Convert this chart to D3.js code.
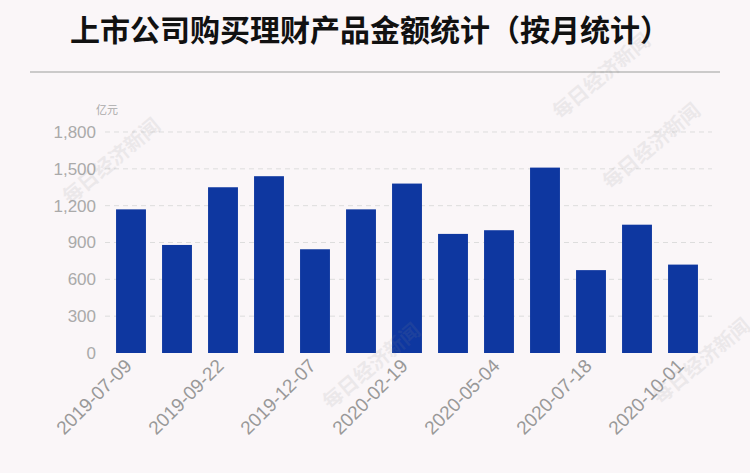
<!DOCTYPE html>
<html lang="zh">
<head>
<meta charset="UTF-8">
<script src="https://d3js.org/d3.v7.min.js"></script>
<style>
  body { margin: 0; background: #faf6f8; }
  svg { display: block; font-family: "Liberation Sans", "Noto Sans CJK SC", sans-serif; }
</style>
</head>
<body>
<svg id="chart" width="750" height="473"></svg>
<script>
const dates = ["2019-07-09", "2019-08-15", "2019-09-22", "2019-10-29", "2019-12-07", "2020-01-13",
  "2020-02-19", "2020-03-27", "2020-05-04", "2020-06-10", "2020-07-18", "2020-08-24", "2020-10-01"];
const amounts = [1170, 880, 1350, 1440, 845, 1170, 1380, 970, 1000, 1510, 675, 1045, 720];
const yTicks = [0, 300, 600, 900, 1200, 1500, 1800];

const svg = d3.select("#chart");

svg.append("rect").attr("width", 750).attr("height", 473).attr("fill", "#faf6f8");

svg.append("text")
    .attr("x", 370).attr("y", 41)
    .attr("text-anchor", "middle")
    .attr("font-family", "Noto Sans CJK SC")
    .attr("font-size", 30).attr("font-weight", "bold")
    .attr("fill", "#111")
    .text("上市公司购买理财产品金额统计（按月统计）");

svg.append("line")
    .attr("x1", 30).attr("x2", 720).attr("y1", 72).attr("y2", 72)
    .attr("stroke", "#bbb").attr("stroke-width", 1.5);

const x = d3.scaleBand().domain(dates).range([108, 706])
    .paddingInner(0.35).paddingOuter(0.175);
const y = d3.scaleLinear().domain([0, 1800]).range([353, 132]);

// grid
svg.append("g").selectAll("line").data(yTicks.slice(1)).join("line")
    .attr("x1", 105).attr("x2", 712)
    .attr("y1", d => y(d)).attr("y2", d => y(d))
    .attr("stroke", "#ddd").attr("stroke-dasharray", "5,4");

const yAxis = svg.append("g").attr("transform", "translate(100,0)")
    .call(d3.axisLeft(y).tickValues(yTicks).tickSize(0).tickPadding(4).tickFormat(d3.format(",")));
yAxis.select(".domain").remove();
yAxis.selectAll("text").attr("font-size", 17).attr("fill", "#aaa");

svg.append("text").attr("x", 96).attr("y", 114)
    .attr("font-family", "Noto Sans CJK SC")
    .attr("font-size", 11).attr("fill", "#aaa").text("亿元");

svg.append("g").selectAll("rect").data(amounts).join("rect")
    .attr("x", (d, i) => x(dates[i]))
    .attr("width", x.bandwidth())
    .attr("y", d => y(d))
    .attr("height", d => y(0) - y(d))
    .attr("fill", "#0e37a0");

const xAxis = svg.append("g").attr("transform", "translate(0,353)")
    .call(d3.axisBottom(x).tickValues(dates.filter((d, i) => i % 2 === 0)).tickSize(0).tickPadding(0));
xAxis.select(".domain").remove();
xAxis.selectAll("text")
    .attr("font-size", 19).attr("fill", "#999")
    .attr("text-anchor", "end")
    .attr("dy", 0)
    .attr("transform", "translate(2,14) rotate(-45)");

// watermarks
const marks = [[70, 205], [610, 190], [330, 410], [660, 405], [560, 120]];
svg.append("g").selectAll("text").data(marks).join("text")
    .attr("transform", d => `translate(${d[0]},${d[1]}) rotate(-40)`)
    .attr("font-family", "Noto Sans CJK SC").attr("font-weight", "bold")
    .attr("font-size", 20).attr("fill", "#888").attr("opacity", 0.12)
    .text("每日经济新闻");
</script>
</body>
</html>
